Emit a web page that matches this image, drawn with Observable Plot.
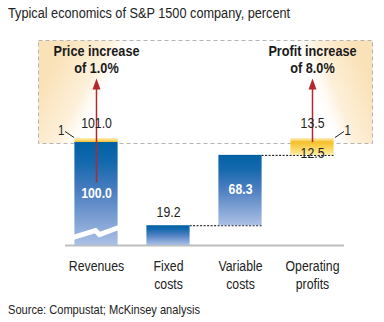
<!DOCTYPE html>
<html><head><meta charset="utf-8">
<script src="https://cdn.jsdelivr.net/npm/d3@7"></script>
<script src="https://cdn.jsdelivr.net/npm/@observablehq/plot@0.6"></script>
<style>
html,body{margin:0;padding:0;background:#fff;}
body{width:384px;height:322px;position:relative;overflow:hidden;font-family:"Liberation Sans",Arial,sans-serif;color:#222;}
.narrow{display:inline-block;transform:scaleX(0.82);transform-origin:0 0;white-space:nowrap;}
#title{position:absolute;left:8px;top:4px;font-size:15.5px;line-height:18px;}
#chart{position:absolute;left:0;top:30px;}
#source{position:absolute;left:8px;top:301px;font-size:13.5px;line-height:18px;}
</style></head>
<body>
<div id="title"><span class="narrow">Typical economics of S&amp;P 1500 company, percent</span></div>
<div id="chart"></div>
<div id="source"><span class="narrow">Source: Compustat; McKinsey analysis</span></div>
<script>
// ---- data ----
const categories = ["Revenues", "Fixed costs", "Variable costs", "Operating profits"];
const categoryLabels = ["Revenues", "Fixed\ncosts", "Variable\ncosts", "Operating\nprofits"];
const barStart = [0, 0, 19.2, 87.5];
const barEnd = [100, 19.2, 87.5, 100];
const barValues = [100.0, 19.2, 68.3, 12.5];
const barKinds = ["blue", "blue", "blue", "yellow"];
const increaseCategories = ["Revenues", "Operating profits"];
const increaseAmount = 1;
const newTotals = [101.0, 13.5];
const increaseNotes = ["Price increase\nof 1.0%", "Profit increase\nof 8.0%"];
const breakValue = 12.6; // where the Revenues bar is visually broken

// ---- derived tables ----
const fmt = d3.format(".1f");
const bars = categories.map((c, i) => ({category: c, start: barStart[i], end: barEnd[i], value: barValues[i], kind: barKinds[i], mid: (barStart[i] + barEnd[i]) / 2}));
const blueBars = bars.filter(d => d.kind === "blue");
const yellowBars = bars.filter(d => d.kind === "yellow");
const insideLabels = blueBars.filter(d => d.end - d.start >= 30);
const aboveLabels = blueBars.filter(d => d.end - d.start < 30);
const increments = increaseCategories.map((c, i) => {
  const b = bars.find(d => d.category === c);
  return {category: c, start: b.end, end: b.end + increaseAmount, total: newTotals[i], note: increaseNotes[i], side: i === 0 ? -1 : 1, bar: b};
});
const connectors = [];
for (let i = 0; i < categories.length - 1; i++) {
  if (barEnd[i] === barStart[i + 1]) connectors.push({from: categories[i], to: categories[i + 1], y: barEnd[i]});
}

// ---- layout ----
const W = 384, H = 268, mL = 60, mR = 36, mT = 112, mB = 53;
const padIn = 0.4, padOut = 0.2;
const bw = (W - mL - mR) / (categories.length - padIn + 2 * padOut) * (1 - padIn);
const RED = "#b3282d", INK = "#222";

const defs = () => {
  const d = d3.create("svg:defs");
  const lg = (id, attrs, stops) => {
    const g = d.append("linearGradient").attr("id", id);
    for (const k in attrs) g.attr(k, attrs[k]);
    stops.forEach(([o, c, op = 1]) => g.append("stop").attr("offset", o).attr("stop-color", c).attr("stop-opacity", op));
  };
  lg("blueGrad", {x1: 0, y1: 0, x2: 0, y2: 1}, [[0, "#0061a3"], [0.2, "#1469ad"], [0.5, "#4f80c2"], [1, "#abc0e4"]]);
  lg("incGrad", {x1: 0, y1: 0, x2: 0, y2: 1}, [[0, "#fff3c4"], [1, "#f5bf2a"]]);
  lg("profitGrad", {x1: 0, y1: 0, x2: 0, y2: 1}, [[0, "#f6c02c"], [0.5, "#fad75f"], [1, "#fdeaa6"]]);
  lg("beamL", {x1: 0, y1: 0.5, x2: 1, y2: 0.664}, [[0, "#fae2b8"], [0.13, "#fdf0da"], [0.165, "#fff6ea", 0.6], [0.2, "#ffffff", 0]]);
  lg("beamR", {x1: 1, y1: 0.5, x2: 0, y2: 0.62}, [[0, "#fae2b8"], [0.11, "#fdf0da"], [0.14, "#fff6ea", 0.6], [0.18, "#ffffff", 0]]);
  return d.node();
};

const boxInsets = {insetLeft: -22, insetRight: -24, insetTop: -102, insetBottom: 102};
const arrowHead = {draw(ctx) { ctx.moveTo(0, -7); ctx.lineTo(4, 4); ctx.lineTo(-4, 4); ctx.closePath(); }};
const leader = side => ({draw(ctx) { ctx.moveTo(-4.5, 3 * side); ctx.lineTo(4.5, -3 * side); }});
const zigzag = {draw(ctx) { ctx.moveTo(-24, 5); ctx.lineTo(-1, -2); ctx.lineTo(3, 2); ctx.lineTo(25, -6); }};

const revInc = increments.filter(d => d.bar.end - d.bar.start >= 30);
const otherInc = increments.filter(d => d.bar.end - d.bar.start < 30);

const plot = Plot.plot({
  width: W, height: H,
  marginLeft: mL, marginRight: mR, marginTop: mT, marginBottom: mB,
  style: {fontFamily: '"Liberation Sans",Arial,sans-serif', fontSize: "15px", color: INK, background: "transparent", overflow: "visible"},
  x: {domain: categories, paddingInner: padIn, paddingOuter: padOut, round: false, axis: null},
  y: {domain: [0, 100], axis: null},
  marks: [
    defs,
    Plot.frame({fill: "url(#beamL)", stroke: "none", ...boxInsets}),
    Plot.frame({fill: "url(#beamR)", stroke: "none", ...boxInsets}),
    Plot.frame({fill: "none", stroke: "#b4b4b4", strokeDasharray: "4,3", ...boxInsets}),
    Plot.ruleY([0], {stroke: "#bdbdbd", strokeWidth: 2, insetLeft: 5, insetRight: 4}),
    Plot.ruleY(connectors, {x1: "from", x2: "to", y: "y", insetLeft: bw, stroke: "#000", strokeDasharray: "2,1.5"}),
    Plot.barY(blueBars, {x: "category", y1: "start", y2: "end", fill: "url(#blueGrad)"}),
    Plot.barY(yellowBars, {x: "category", y1: "start", y2: "end", fill: "url(#profitGrad)"}),
    Plot.barY(increments, {x: "category", y1: "start", y2: "end", insetTop: -3, fill: "url(#incGrad)"}),
    Plot.dot(bars.filter(d => d.category === categories[0]), {x: "category", y: () => breakValue, symbol: zigzag, fill: "none", stroke: "white", strokeWidth: 5}),
    // red arrows (y1 is the top end, y2 the tail)
    Plot.ruleX(revInc, {x: "category", y1: "end", y2: d => d.bar.mid, insetTop: -55, insetBottom: 11, stroke: RED, strokeWidth: 1.5}),
    Plot.ruleX(otherInc, {x: "category", y1: "end", y2: "start", insetTop: -55, stroke: RED, strokeWidth: 1.5}),
    Plot.dot(increments, {x: "category", y: "end", dy: -56, symbol: arrowHead, fill: RED, stroke: "none"}),
    Plot.text(increments, {x: "category", y: "end", text: "note", lineAnchor: "bottom", dy: -68, fontSize: 15.5, fontWeight: "bold", lineHeight: 1.1, fill: "#1a1a1a"}),
    // increment labels
    Plot.text(increments, {x: "category", y: "end", text: d => fmt(d.total), lineAnchor: "bottom", dy: -13, fontSize: 15, fill: INK}),
    increments.map(d => [
      Plot.text([d], {x: "category", y: "end", text: () => String(increaseAmount), dx: 32 * d.side, dy: -6, lineAnchor: "bottom", textAnchor: d.side < 0 ? "end" : "start", fontSize: 14, fill: INK}),
      Plot.dot([d], {x: "category", y: "end", dx: 27 * d.side, dy: -7, symbol: leader(d.side), fill: "none", stroke: INK, strokeWidth: 1})
    ]),
    // value labels
    Plot.text(insideLabels, {x: "category", y: "mid", text: d => fmt(d.value), dy: -1, fontSize: 15, fontWeight: "bold", fill: "white"}),
    Plot.text(aboveLabels, {x: "category", y: "end", text: d => fmt(d.value), lineAnchor: "bottom", dy: -9, fontSize: 15, fill: INK}),
    Plot.text(yellowBars, {x: "category", y: "mid", text: d => fmt(d.value), dy: 4, fontSize: 15, fill: INK}),
    // category labels
    Plot.text(categories, {x: d => d, text: (d, i) => categoryLabels[i], frameAnchor: "bottom", lineAnchor: "top", dy: 13, fontSize: 15, lineHeight: 1.2, fill: INK})
  ]
});
// condensed type (like the original's narrow face): squeeze each text around its anchor
plot.querySelectorAll("text").forEach(t => {
  t.setAttribute("transform", ((t.getAttribute("transform") || "") + " scale(0.82,1)").trim());
});
document.getElementById("chart").appendChild(plot);
</script>
</body></html>
